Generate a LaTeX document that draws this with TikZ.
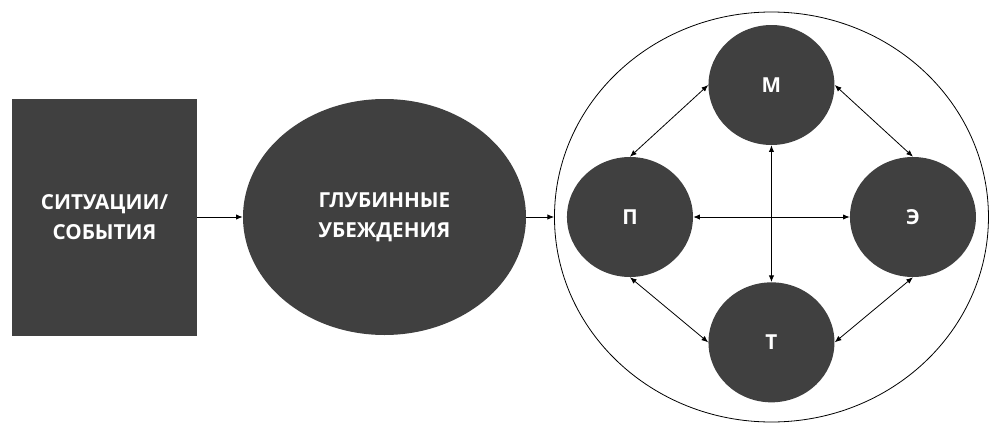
\documentclass[tikz,border=0pt]{standalone}
\usepackage{fontspec}
\setmainfont{Open Sans}
\usetikzlibrary{shapes.geometric, arrows.meta, positioning}
\usepackage{xcolor}
\definecolor{darkfill}{HTML}{404040}

\begin{document}
\begin{tikzpicture}[node distance=210pt, auto,
    dark/.style={fill=darkfill, draw=none, text=white, inner sep=0pt, align=center,
        font=\fontsize{15.5}{22.5}\selectfont\bfseries},
    small/.style={dark, ellipse, minimum width=94.5pt, minimum height=90pt},
    link/.style={-{Latex[length=5pt,width=4pt]}, line width=0.6pt},
    twoway/.style={{Latex[length=5pt,width=4pt]}-{Latex[length=5pt,width=4pt]}, line width=0.6pt}]
    \useasboundingbox (-78.375pt,-162pt) rectangle (671.625pt,162.75pt);
    \node[dark, minimum width=138.75pt, minimum height=177.75pt] (events) {СИТУАЦИИ/\\СОБЫТИЯ};
    \node[dark, ellipse, minimum width=212.25pt, minimum height=177pt, right of=events] (beliefs) {ГЛУБИННЫЕ\\УБЕЖДЕНИЯ};
    \node[small, node distance=184.1pt, right of=beliefs] (p) {П};
    \node[small, node distance=212.25pt, right of=p] (e) {Э};
    \coordinate[node distance=106.125pt, right of=p] (mid);
    \node[small, node distance=99pt, above of=mid] (m) {М};
    \node[small, node distance=94pt, below of=mid] (t) {Т};
    \node[draw, ellipse, line width=0.6pt, minimum width=325.5pt, minimum height=307.5pt] (whole) at (mid) {};
    
    \draw[link] (events) -- (beliefs);
    \draw[link] (beliefs.east) -- (whole.west);
    \draw[twoway] (p) -- (e);
    \draw[twoway] (m) -- (t);
    \draw[twoway] (m.west) -- (p.north);
    \draw[twoway] (m.east) -- (e.north);
    \draw[twoway] (p.south) -- (t.west);
    \draw[twoway] (e.south) -- (t.east);
\end{tikzpicture}
\end{document}
